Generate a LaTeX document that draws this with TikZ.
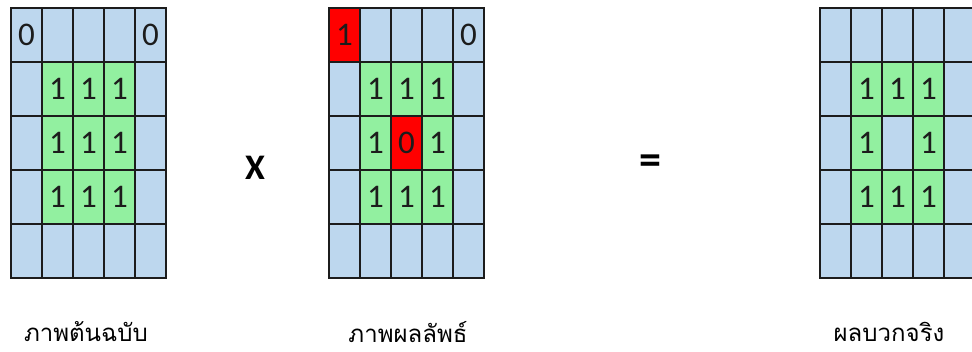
\documentclass[tikz,border=0pt]{standalone}
\usepackage{fontspec}
\setmainfont{Carlito}
\newfontfamily\thaifont[Script=Thai]{Loma}
\usetikzlibrary{positioning}
\definecolor{cellblue}{HTML}{BDD7EE}
\definecolor{cellgreen}{HTML}{92F0A0}
\definecolor{cellred}{HTML}{FF0000}
\definecolor{gridline}{HTML}{1C1C1C}
\tikzset{
  cell/.style={draw=gridline, line width=1.8pt, fill=cellblue, anchor=north west, minimum width=31pt, minimum height=54pt, inner sep=0pt, text=gridline, font=\fontsize{33}{33}\selectfont},
  cellg/.style={cell, fill=cellgreen},
  cellr/.style={cell, fill=cellred},
  op/.style={font=\bfseries\fontsize{36}{36}\selectfont},
  imgtitle/.style={font=\thaifont\fontsize{24}{24}\selectfont},
}

\begin{document}
\begin{tikzpicture}[x=1pt, y=-1pt]
    \useasboundingbox (0,0) rectangle (972,352);
    \clip (0,0) rectangle (972,352);

    % raster
    \foreach \g/\x in {a/10,b/328,c/819}{
      \foreach \r in {0,...,4}{
        \foreach \c in {0,...,4}{
          \node[cell] (\g\r\c) at (\x+31*\c,7+54*\r) {};
        }
      }
      \foreach \r/\c in {1/1,1/2,1/3,2/1,2/3,3/1,3/2,3/3}{
        \node[cellg] (\g\r\c) at (\x+31*\c,7+54*\r) {1};
      }
    }

    % einzelne zellen
    \node[cell] (a00) at (10,7) {0};
    \node[cell] (a04) at (10+124,7) {0};
    \node[cellg] (a22) at (10+62,7+108) {1};
    \node[cellr] (b00) at (328,7) {1};
    \node[cell] (b04) at (328+124,7) {0};
    \node[cellr] (b22) at (328+62,7+108) {0};

    % operatoren
    \node[op] (times) at (255,168) {X};
    \node[op, font=\bfseries\fontsize{44}{44}\selectfont] (eq) at (650,165) {=};

    % beschriftung
    \node[imgtitle] (titlea) at (86,332) {ภาพต้นฉบับ};
    \node[imgtitle] (titleb) at (408,332) {ภาพผลลัพธ์};
    \node[imgtitle] (titlec) at (889,332) {ผลบวกจริง};
  \end{tikzpicture}
\end{document}
